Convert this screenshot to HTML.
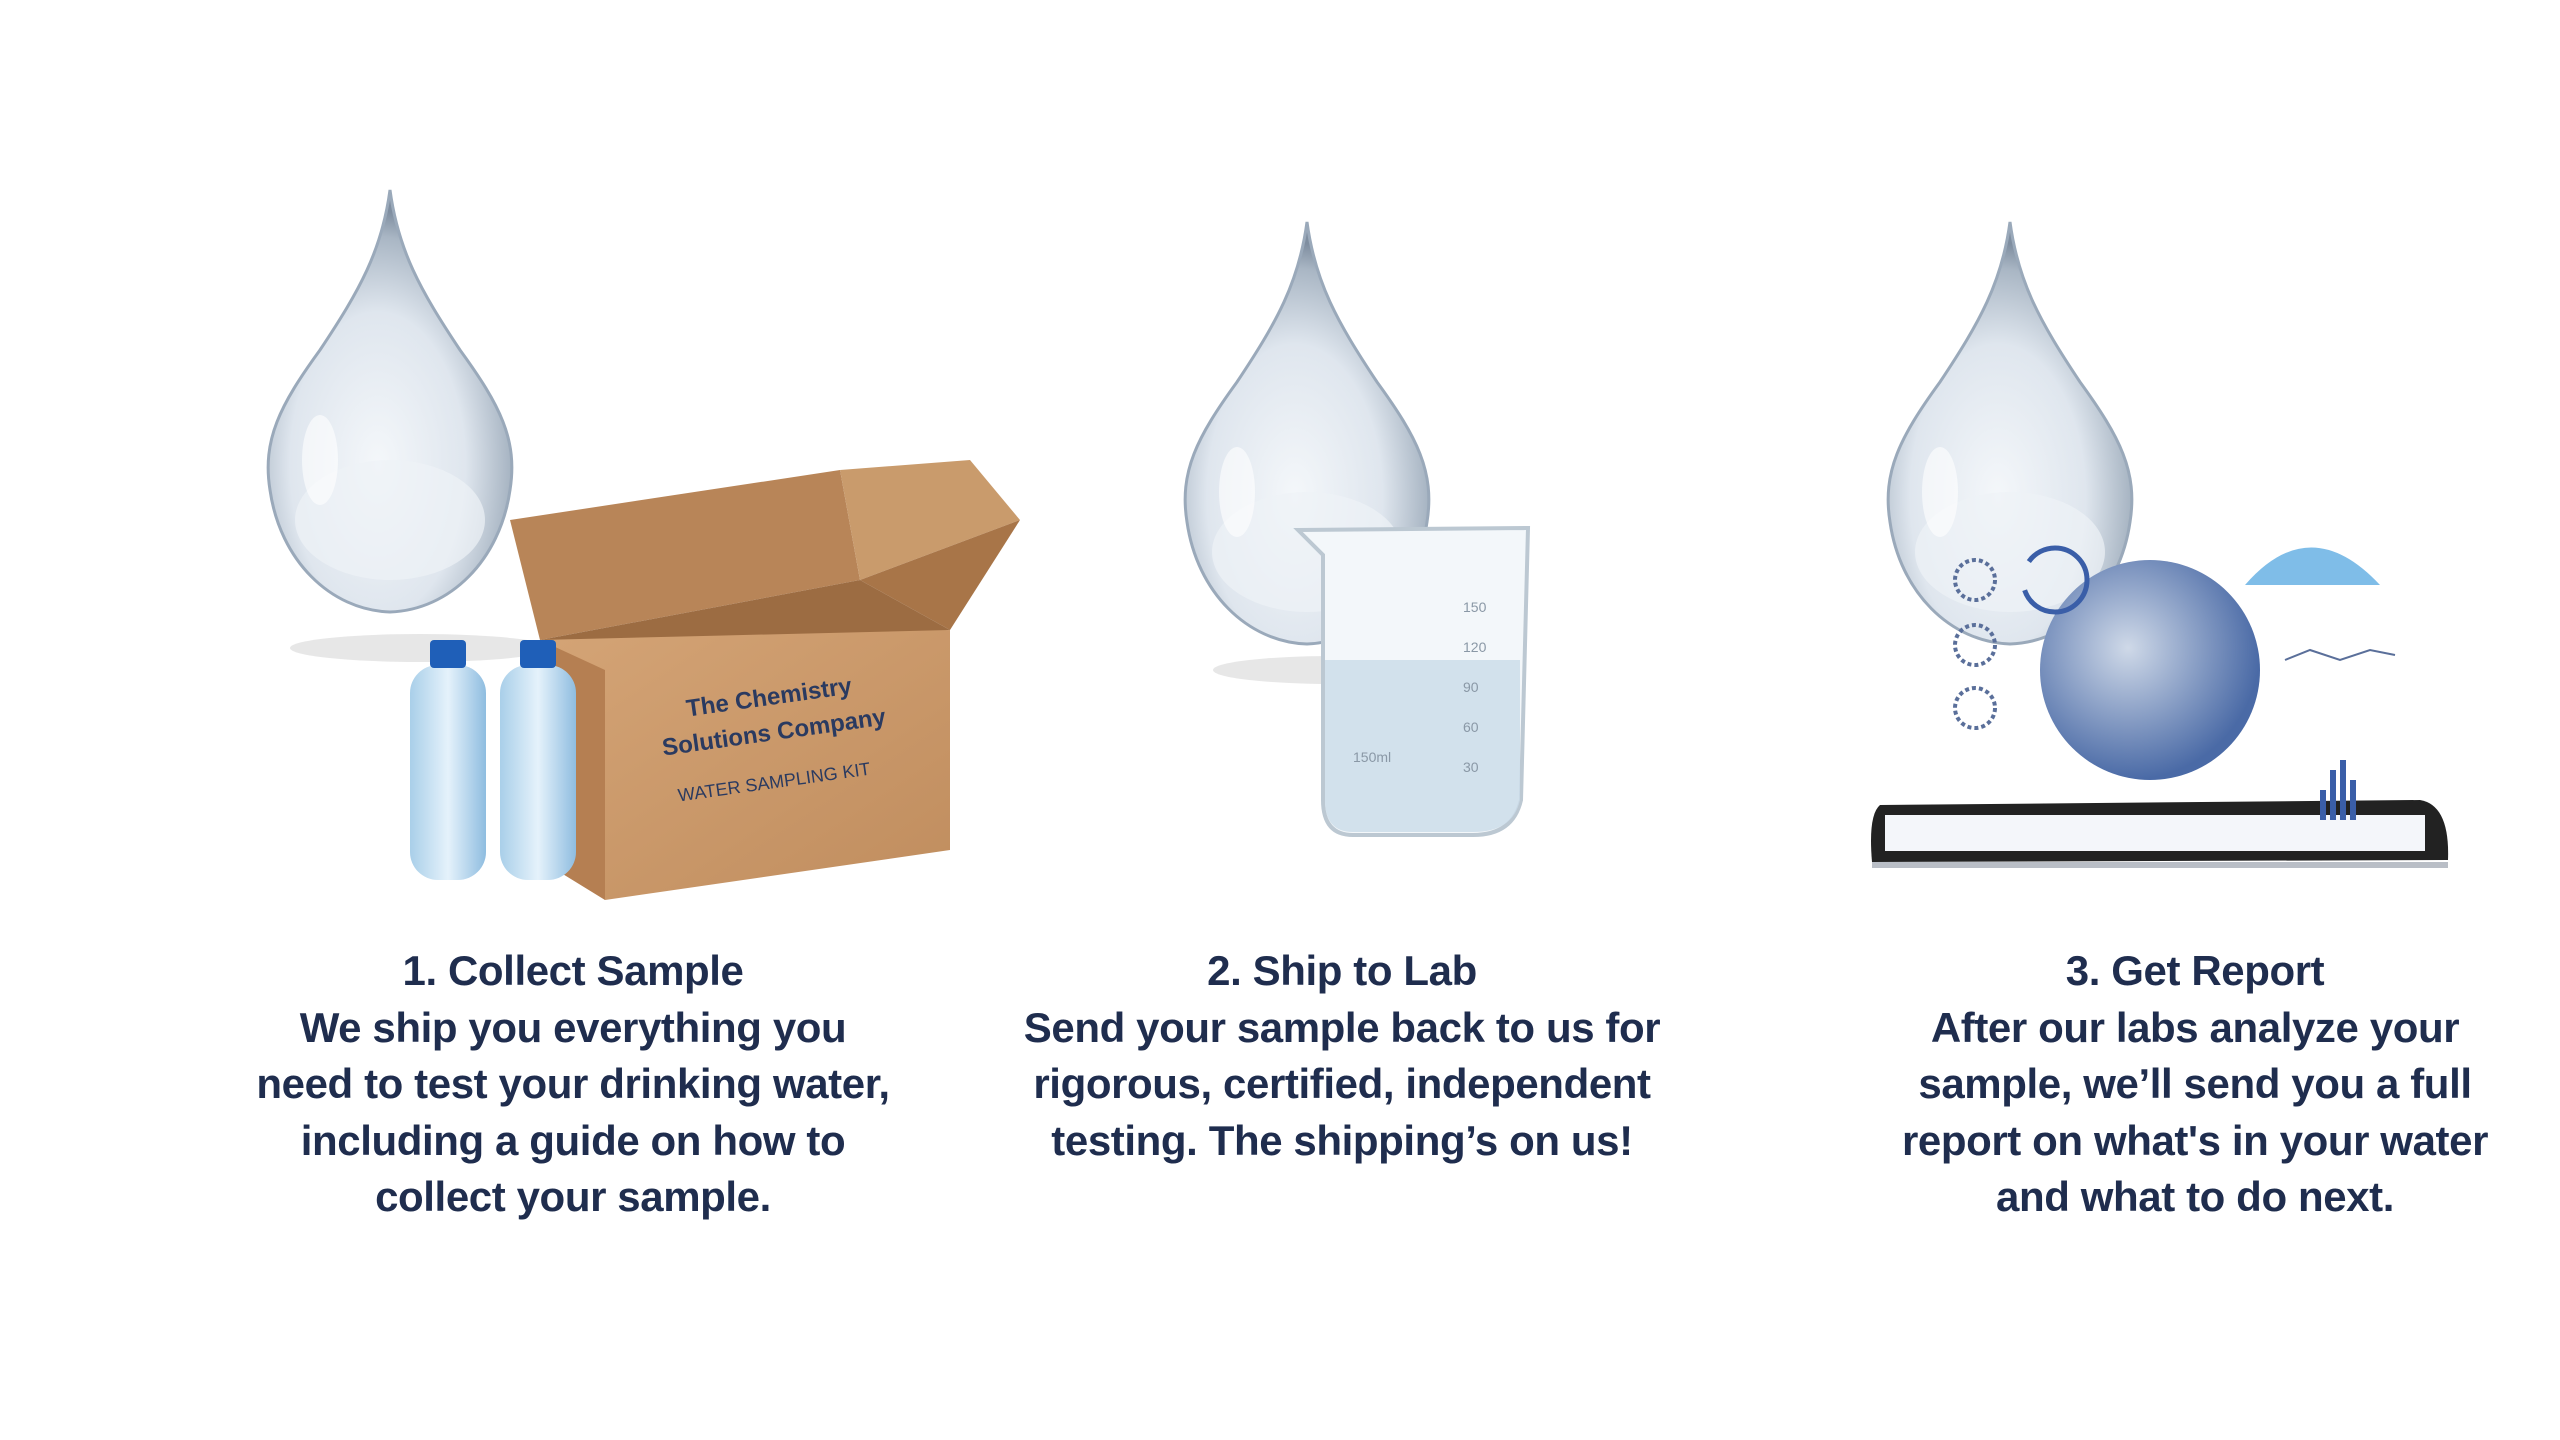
<!DOCTYPE html>
<html><head><meta charset="utf-8"><style>
html,body{margin:0;padding:0;background:#fff;}
body{width:2560px;height:1440px;position:relative;overflow:hidden;}
.t{position:absolute;top:943px;width:900px;text-align:center;font-family:"Liberation Sans",sans-serif;font-weight:bold;font-size:42px;line-height:56.5px;color:#1f2d4e;letter-spacing:-0.4px;}
svg{position:absolute;left:0;top:0;}
</style></head><body>
<svg width="2560" height="1440" viewBox="0 0 2560 1440">
<defs>
<radialGradient id="dg" cx="0.45" cy="0.65" r="0.6">
<stop offset="0" stop-color="#f4f7fa"/><stop offset="0.6" stop-color="#dfe6ee"/><stop offset="0.9" stop-color="#a9b6c4"/><stop offset="1" stop-color="#7f8ea0"/>
</radialGradient>
<linearGradient id="bx" x1="0" y1="0" x2="1" y2="1"><stop offset="0" stop-color="#d4a476"/><stop offset="1" stop-color="#c08d5e"/></linearGradient>
<linearGradient id="bt" x1="0" y1="0" x2="1" y2="0"><stop offset="0" stop-color="#a9cfe9"/><stop offset="0.5" stop-color="#e5f2fb"/><stop offset="1" stop-color="#8fbde0"/></linearGradient>
<radialGradient id="gl" cx="0.4" cy="0.4" r="0.6"><stop offset="0" stop-color="#cfd9e8"/><stop offset="1" stop-color="#4a6aa6"/></radialGradient>
<g id="drop"><path d="M0 0 C8 60 30 100 70 160 C110 215 128 250 120 300 C110 370 60 420 0 422 C-60 420 -110 370 -120 300 C-128 250 -110 215 -70 160 C-30 100 -8 60 0 0Z" fill="url(#dg)" stroke="#9aa9ba" stroke-width="3"/>
<ellipse cx="0" cy="330" rx="95" ry="60" fill="#eef2f6" opacity="0.7"/>
<ellipse cx="-70" cy="270" rx="18" ry="45" fill="#fff" opacity="0.6"/></g>
</defs>
<ellipse cx="420" cy="648" rx="130" ry="14" fill="#ddd" opacity="0.7"/>
<use href="#drop" x="390" y="190"/>
<ellipse cx="1333" cy="670" rx="120" ry="14" fill="#ddd" opacity="0.7"/>
<use href="#drop" x="1307" y="222"/>
<use href="#drop" x="2010" y="222"/>
<!-- box -->
<polygon points="510,520 840,470 860,580 540,640" fill="#b88558"/>
<polygon points="840,470 970,460 1020,520 860,580" fill="#c99b6c"/>
<polygon points="860,580 1020,520 950,630" fill="#a87548"/>
<polygon points="540,640 860,580 950,630 610,670" fill="#9c6c42"/>
<polygon points="540,640 950,630 950,850 605,900" fill="url(#bx)"/>
<polygon points="540,640 605,670 605,900 540,860" fill="#b57f52"/>
<text x="770" y="705" font-family="Liberation Sans" font-weight="bold" font-size="24" fill="#2a3a60" text-anchor="middle" transform="rotate(-8 770 705)">The Chemistry</text>
<text x="775" y="740" font-family="Liberation Sans" font-weight="bold" font-size="24" fill="#2a3a60" text-anchor="middle" transform="rotate(-8 775 740)">Solutions Company</text>
<text x="775" y="788" font-family="Liberation Sans" font-size="18" fill="#2a3a60" text-anchor="middle" transform="rotate(-8 775 788)">WATER SAMPLING KIT</text>
<!-- bottles -->
<g><rect x="410" y="665" width="76" height="215" rx="28" fill="url(#bt)"/><rect x="430" y="640" width="36" height="28" rx="4" fill="#1f5fb8"/></g>
<g><rect x="500" y="665" width="76" height="215" rx="28" fill="url(#bt)"/><rect x="520" y="640" width="36" height="28" rx="4" fill="#1f5fb8"/></g>
<!-- beaker -->
<path d="M1298 530 L1528 528 L1521 800 Q1513 835 1473 835 L1353 835 Q1323 835 1323 800 L1323 555 Z" fill="#f3f7fa" stroke="#bcc8d2" stroke-width="4"/>
<path d="M1325 660 L1520 660 L1520 800 Q1513 832 1473 832 L1353 832 Q1325 832 1325 800Z" fill="#c9dbe8" opacity="0.8"/>
<g font-family="Liberation Sans" font-size="14" fill="#8a98a6"><text x="1463" y="612">150</text><text x="1463" y="652">120</text><text x="1463" y="692">90</text><text x="1463" y="732">60</text><text x="1463" y="772">30</text><text x="1353" y="762">150ml</text></g>
<!-- report -->
<path d="M1880 805 L2420 800 Q2450 805 2448 860 L1872 862 Q1868 815 1880 805Z" fill="#222"/>
<rect x="1885" y="815" width="540" height="36" fill="#f4f6fa"/>
<rect x="1872" y="862" width="576" height="6" fill="#b9bec6"/>
<circle cx="2150" cy="670" r="110" fill="url(#gl)"/>
<circle cx="2055" cy="580" r="32" fill="none" stroke="#3a5ea8" stroke-width="5" stroke-dasharray="90 30"/>
<circle cx="1975" cy="580" r="20" fill="none" stroke="#5a6f9a" stroke-width="4" stroke-dasharray="4 3"/>
<circle cx="1975" cy="645" r="20" fill="none" stroke="#5a6f9a" stroke-width="4" stroke-dasharray="4 3"/>
<circle cx="1975" cy="708" r="20" fill="none" stroke="#5a6f9a" stroke-width="4" stroke-dasharray="4 3"/>
<path d="M2245 585 Q2310 510 2380 585 Z" fill="#7fbde8"/>
<path d="M2285 660 L2310 650 L2340 660 L2370 650 L2395 655" stroke="#5a6f9a" fill="none" stroke-width="2"/>
<g fill="#3a5ea8"><rect x="2320" y="790" width="6" height="30"/><rect x="2330" y="770" width="6" height="50"/><rect x="2340" y="760" width="6" height="60"/><rect x="2350" y="780" width="6" height="40"/></g>
</svg>
<div class="t" style="left:123px">1. Collect Sample<br>We ship you everything you<br>need to test your drinking water,<br>including a guide on how to<br>collect your sample.</div>
<div class="t" style="left:892px">2. Ship to Lab<br>Send your sample back to us for<br>rigorous, certified, independent<br>testing. The shipping’s on us!</div>
<div class="t" style="left:1745px">3. Get Report<br>After our labs analyze your<br>sample, we’ll send you a full<br>report on what's in your water<br>and what to do next.</div>
</body></html>
